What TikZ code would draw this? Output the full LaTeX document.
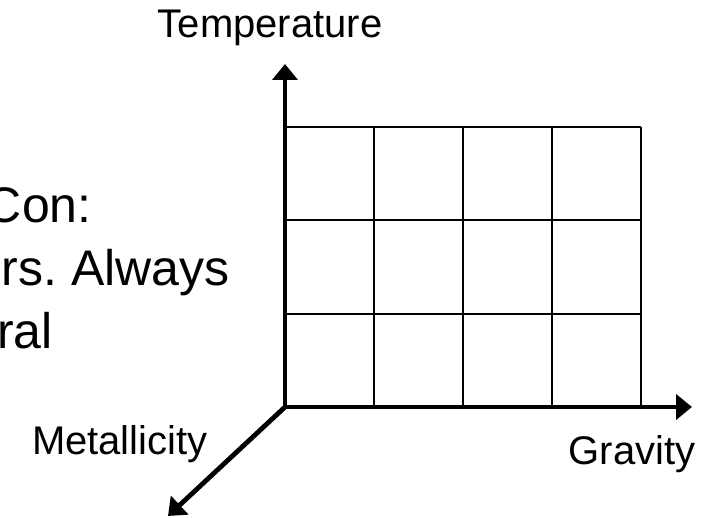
\documentclass[tikz,border=0pt]{standalone}
\usepackage{fontspec}
\setmainfont{Liberation Sans}
\usetikzlibrary{arrows.meta}

\begin{document}
\begin{tikzpicture}[
  x=0.5pt, y=0.5pt,
  axis/.style={
    line width=2.4pt, line cap=rect,
    -{Triangle[length=8pt, width=12.5pt]}
  },
  gridline/.style={line width=1pt},
  axislabel/.style={font=\fontsize{20pt}{24pt}\selectfont, inner sep=0pt},
  notetext/.style={
    font=\fontsize{25pt}{30pt}\selectfont\frenchspacing,
    inner sep=0pt, anchor=base east
  }
]
\useasboundingbox (0,0) rectangle (717,518);
\clip (0,0) rectangle (717,518);

% Note text, cut off at the left edge.
\node[notetext] (con)    at (92,295)  {Con:};
\node[notetext] (always) at (230,232) {rs. Always};
\node[notetext] (ral)    at (53,169)  {ral};

% Parameter grid: four columns, three rows.
\foreach \gx in {374,463,552,641}
  \draw[gridline] (\gx,111) -- (\gx,391);
\foreach \gy in {204.3,297.7,391}
  \draw[gridline] (285,\gy) -- (641,\gy);

% Axes from a common origin.
\coordinate (origin) at (285,111);
\coordinate (ttip)   at (285,454);
\coordinate (gtip)   at (692,111);
\coordinate (mtip)   at (168,2);
\draw[axis] (origin) -- (ttip);
\draw[axis] (origin) -- (gtip);
\draw[axis] (origin) -- (mtip);

% Axis labels.
\node[axislabel, anchor=base]      (temp)  at (270,480) {Temperature};
\node[axislabel, anchor=base]      (grav)  at (632,53)  {Gravity};
\node[axislabel, anchor=base east] (metal) at (208,63)  {Metallicity};

\end{tikzpicture}
\end{document}
